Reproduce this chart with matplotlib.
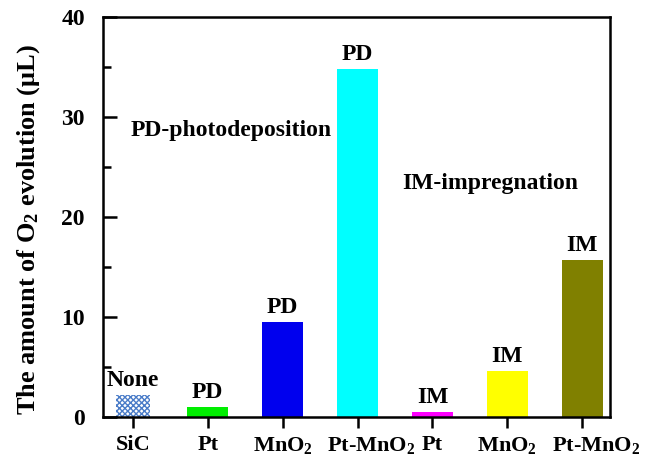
import numpy as np
import matplotlib
matplotlib.use('Agg')
import matplotlib.pyplot as plt
from matplotlib.transforms import ScaledTranslation

plt.rcParams['font.family'] = 'Liberation Serif'
plt.rcParams['font.weight'] = 'bold'
plt.rcParams['mathtext.fontset'] = 'custom'
plt.rcParams['mathtext.rm'] = 'Liberation Serif:bold'
plt.rcParams['mathtext.it'] = 'Liberation Serif:bold'
plt.rcParams['mathtext.bf'] = 'Liberation Serif:bold'

# data
samples = ['SiC', 'Pt', r'MnO$_2$', r'Pt-MnO$_2$', 'Pt', r'MnO$_2$', r'Pt-MnO$_2$']
o2 = [2.2, 1.0, 9.5, 34.8, 0.5, 4.6, 15.7]
methods = ['None', 'PD', 'PD', 'PD', 'IM', 'IM', 'IM']
colors = ['white', '#00ee00', '#0000ee', '#00ffff', '#ff00ff', '#ffff00', '#808000']

x = np.arange(len(samples))

fig, ax = plt.subplots(figsize=(6.51, 4.62), dpi=100)
fig.subplots_adjust(left=0.158, right=0.937, top=0.963, bottom=0.097)

bars = ax.bar(x, o2, width=0.55, color=colors, linewidth=0)
# SiC bar is hatched (checkered)
bars[0].set_hatch('xxxxxx')
bars[0].set_edgecolor('#4a7cc8')
bars[0].set_width(0.46)
bars[0].set_x(x[0] - 0.23)

for xi, v, m in zip(x, o2, methods):
    ax.text(xi, v + 0.4, m, ha='center', va='bottom', fontsize=17, fontweight='bold')

ax.text(-0.03, 28.7, 'PD-photodeposition', fontsize=17, fontweight='bold', va='center')
ax.text(3.6, 23.4, 'IM-impregnation', fontsize=17, fontweight='bold', va='center')

ax.set_xlim(-0.4, 6.37)
ax.set_ylim(0, 40)
ax.set_xticks(x)
ax.set_xticklabels(samples)
ax.set_yticks([0, 10, 20, 30, 40])
ax.set_yticks([5, 15, 25, 35], minor=True)
ax.tick_params(axis='y', direction='in', length=10, width=1.8, labelsize=17, pad=13)
ax.tick_params(axis='y', which='minor', direction='in', length=6, width=1.8)
ax.tick_params(axis='x', direction='out', length=8, width=1.8, labelsize=16, pad=5)
for s in ax.spines.values():
    s.set_linewidth(1.8)

# Pt-MnO2 labels sit a little right of their ticks
shift = ScaledTranslation(14 / 100, 0, fig.dpi_scale_trans)
for lab in ax.get_xticklabels():
    if 'Pt-' in lab.get_text():
        lab.set_transform(lab.get_transform() + shift)

ax.set_ylabel(r'The amount of O$_2$ evolution ($\mu$L)', fontsize=19, fontweight='bold')
ax.yaxis.set_label_coords(-0.12, 0.47)

fig.savefig('out.png', dpi=100)
